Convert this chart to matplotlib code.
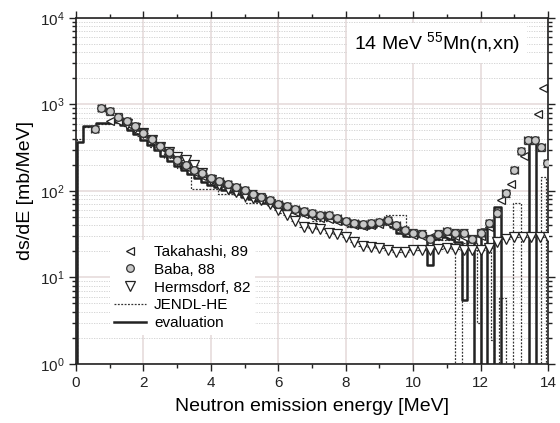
import numpy as np
import matplotlib
matplotlib.use("Agg")
import matplotlib.pyplot as plt
from matplotlib.lines import Line2D
from matplotlib.ticker import MultipleLocator, LogLocator, NullFormatter

plt.rcParams['font.family'] = ['Liberation Sans', 'DejaVu Sans']
plt.rcParams['mathtext.default'] = 'regular'

# --- measured spectra ---
takahashi_e = [1.0, 1.25, 1.5, 1.75, 2.0, 2.25, 2.5, 2.75, 3.0, 3.25, 3.5, 3.75, 4.0, 4.25, 4.5,
               4.75, 5.0, 5.25, 5.5, 5.75, 6.0, 6.25, 6.5, 6.75, 7.0, 7.25, 7.5, 7.75, 8.0, 8.25,
               8.5, 8.75, 9.0, 9.25, 9.5, 9.75, 10.0, 10.25, 10.5, 10.75, 11.0, 11.25, 11.5, 11.75,
               12.0, 12.25, 12.6, 12.9, 13.3, 13.7, 13.86]
takahashi_v = [640, 650, 600, 540, 450, 380, 320, 265, 220, 190, 165, 150, 133, 122, 112,
               103, 95, 87, 80, 73, 66, 61, 57, 54, 51, 49, 47, 45, 42, 40,
               39, 40, 41, 42, 38, 33, 31, 30, 29, 30, 31, 30, 29, 28,
               30, 38, 78, 120, 250, 770, 1550]

baba_e = [0.55, 0.75, 1.0, 1.25, 1.5, 1.75, 2.0, 2.25, 2.5, 2.75, 3.0, 3.25, 3.5, 3.75, 4.0,
          4.25, 4.5, 4.75, 5.0, 5.25, 5.5, 5.75, 6.0, 6.25, 6.5, 6.75, 7.0, 7.25, 7.5, 7.75,
          8.0, 8.25, 8.5, 8.75, 9.0, 9.25, 9.5, 9.75, 10.0, 10.25, 10.5, 10.75, 11.0, 11.25,
          11.5, 11.75, 12.0, 12.25, 12.5, 12.75, 13.0, 13.2, 13.4, 13.6, 13.8, 13.97]
baba_v = [520, 910, 830, 720, 640, 560, 470, 400, 330, 280, 230, 200, 175, 160, 140,
          130, 120, 110, 102, 93, 86, 78, 70, 66, 62, 58, 55, 53, 52, 48,
          45, 42, 41, 42, 44, 46, 40, 35, 33, 32, 28, 32, 34, 33,
          33, 28, 33, 42, 55, 94, 175, 290, 385, 385, 320, 210]

hermsdorf_e = [1.5, 1.75, 2.0, 2.25, 2.5, 2.75, 3.0, 3.25, 3.5, 3.75, 4.0, 4.25, 4.5, 4.75,
               5.0, 5.25, 5.5, 5.75, 6.0, 6.25, 6.5, 6.75, 7.0, 7.25, 7.5, 7.75, 8.0, 8.25,
               8.5, 8.75, 9.0, 9.25, 9.5, 9.75, 10.0, 10.25, 10.5, 10.75, 11.0, 11.25, 11.5,
               11.75, 12.0, 12.25, 12.5, 12.75, 13.0, 13.25, 13.5, 13.75, 14.0]
hermsdorf_v = [600, 530, 465, 390, 323, 280, 247, 225, 200, 160, 133, 118, 105, 96,
               88, 82, 78, 70, 60, 52, 45, 38, 37, 36, 33, 32, 29, 25.5,
               23, 22.5, 22, 21, 19.8, 19.5, 21, 21, 21, 21.5, 22, 21.5, 21,
               21, 21, 22, 26, 28, 29, 29, 29.5, 29.5, 29]

# --- evaluated histograms (bin edges, bin values) ---
eval_edges = [0.0, 0.02, 0.2, 0.6, 1.1, 1.3, 1.5, 1.7, 1.9, 2.1, 2.3, 2.5, 2.7, 2.9, 3.1,
              3.3, 3.5, 3.7, 3.9, 4.1, 4.3, 4.5, 4.7, 4.9, 5.1, 5.3, 5.5, 5.7, 5.9, 6.1,
              6.3, 6.5, 6.7, 6.9, 7.1, 7.3, 7.5, 7.7, 7.9, 8.1, 8.3, 8.5, 8.7, 8.9, 9.1,
              9.3, 9.5, 9.7, 9.9, 10.1, 10.4, 10.6, 10.8, 11.0, 11.2, 11.45, 11.6, 11.8,
              12.0, 12.2, 12.4, 12.6, 13.45, 13.65, 14.0]
eval_v = [0, 370, 560, 610, 620, 580, 510, 450, 390, 340, 295, 255, 222, 195,
          172, 155, 140, 128, 118, 110, 103, 97, 91, 86, 81, 77, 72, 68, 64,
          61, 58, 56, 53, 51, 49, 47, 46, 44, 42, 40, 38, 37, 38, 40,
          42, 38, 33, 30, 31, 30, 14, 28, 29, 28, 26, 5.5, 27,
          0, 36, 0, 65, 0, 385, 0]

jendl_edges = [0.0, 0.02, 0.2, 0.6, 1.0, 1.4, 1.8, 2.2, 2.6, 3.0, 3.4, 4.2, 5.0, 6.0, 7.0,
               8.0, 8.6, 9.2, 9.8, 10.4, 11.25, 11.45, 11.9, 12.0, 12.3, 12.4, 12.55, 12.75,
               12.95, 13.2, 13.8, 13.95, 14.0]
jendl_v = [0, 400, 540, 600, 640, 560, 430, 320, 240, 185, 105, 92, 72, 55,
           45, 38, 40, 53, 30, 27, 0, 25, 3.0, 24, 1.9, 0, 5.8, 0,
           73, 0, 145, 0]

baba_rel_err = 0.09

fig = plt.figure(figsize=(5.6, 4.23), dpi=100)
ax = fig.add_axes([0.1357, 0.1395, 0.8429, 0.8185])
ax.set_yscale('log')

jendl_style = dict(color='#333333', lw=0.9, ls=(0, (1.5, 1.2)))
eval_style = dict(color='#222222', lw=1.8)
taka_style = dict(marker='<', ms=6, mfc='white', mec='#222222', mew=0.9)
baba_style = dict(marker='o', ms=5.5, mfc='#c8c8c8', mec='#333333', mew=0.9)
herm_style = dict(marker='v', ms=7, mfc='white', mec='#222222', mew=0.9)

ax.step(jendl_edges, jendl_v + [jendl_v[-1]], where='post', zorder=3, **jendl_style)
ax.step(eval_edges, eval_v + [eval_v[-1]], where='post', zorder=4, **eval_style)

ax.errorbar(takahashi_e, takahashi_v, xerr=0.08, ls='none', ecolor='#222222',
            elinewidth=0.8, zorder=5, **taka_style)
ax.errorbar(baba_e, baba_v, xerr=0.1, yerr=np.array(baba_v) * baba_rel_err, ls='none',
            ecolor='#333333', elinewidth=0.9, capsize=3, zorder=6, **baba_style)
ax.errorbar(hermsdorf_e, hermsdorf_v, xerr=0.125, ls='none', ecolor='#333333',
            elinewidth=0.8, zorder=5, **herm_style)

ax.set_xlim(0, 14)
ax.set_ylim(1, 1e4)
ax.xaxis.set_major_locator(MultipleLocator(2))
ax.xaxis.set_minor_locator(MultipleLocator(1))
ax.yaxis.set_major_locator(LogLocator(base=10, numticks=10))
ax.yaxis.set_minor_locator(LogLocator(base=10, subs=np.arange(2, 10), numticks=10))
ax.yaxis.set_minor_formatter(NullFormatter())

ax.grid(True, which='major', color='#e6dcdc', lw=1.2, zorder=0)
ax.grid(True, which='minor', axis='y', color='#cfcfcf', lw=0.6,
        ls=(0, (1.5, 1.5)), zorder=0)
ax.set_axisbelow(True)

for s in ax.spines.values():
    s.set_linewidth(1.2)
    s.set_color('#222222')
ax.tick_params(which='both', direction='out', labelsize=11, colors='#222222',
               width=1.0, top=True, right=True)
ax.tick_params(which='major', length=5)
ax.tick_params(which='minor', length=3)

ax.set_xlabel('Neutron emission energy [MeV]', fontsize=14, labelpad=6)
ax.set_ylabel('ds/dE [mb/MeV]', fontsize=14, labelpad=4)

ax.text(0.765, 0.928, '14 MeV $^{55}$Mn(n,xn)', transform=ax.transAxes, fontsize=14,
        ha='center', va='center', zorder=8,
        bbox=dict(facecolor='white', edgecolor='none', pad=5))

legend_items = [
    (Line2D([], [], ls='none', **taka_style), 'Takahashi, 89'),
    (Line2D([], [], ls='none', **baba_style), 'Baba, 88'),
    (Line2D([], [], ls='none', **herm_style), 'Hermsdorf, 82'),
    (Line2D([], [], **jendl_style), 'JENDL-HE'),
    (Line2D([], [], **eval_style), 'evaluation'),
]
leg = ax.legend([h for h, _ in legend_items], [t for _, t in legend_items],
                loc='upper left', bbox_to_anchor=(0.055, 0.379), fontsize=11,
                frameon=True, fancybox=False, edgecolor='none', framealpha=1,
                handlelength=2.1, labelspacing=0.25, borderpad=0.3, handletextpad=0.5)
leg.set_zorder(9)

fig.savefig('out.png', dpi=100)
